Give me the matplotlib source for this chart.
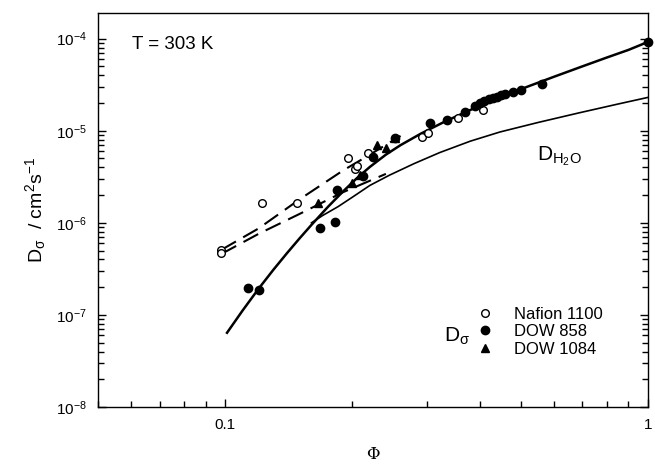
import matplotlib
matplotlib.use("Agg")
import matplotlib.pyplot as plt
from matplotlib.ticker import LogLocator, FixedLocator, FixedFormatter, NullFormatter

plt.rcParams['font.family'] = ['Liberation Sans', 'DejaVu Sans']
plt.rcParams['mathtext.fontset'] = 'custom'
plt.rcParams['mathtext.rm'] = 'Liberation Sans'
plt.rcParams['mathtext.it'] = 'Liberation Sans:italic'
plt.rcParams['mathtext.default'] = 'regular'

# measured points (volume fraction, diffusion coefficient in cm2/s)
nafion_phi = [0.098, 0.098, 0.122, 0.148, 0.195, 0.203, 0.205, 0.218, 0.292, 0.302, 0.355, 0.407]
nafion_d = [5.1e-7, 4.7e-7, 1.65e-6, 1.65e-6, 5.1e-6, 3.8e-6, 4.1e-6, 5.8e-6, 8.6e-6, 9.5e-6, 1.38e-5, 1.69e-5]

dow858_phi = [0.113, 0.120, 0.168, 0.182, 0.184, 0.212, 0.224, 0.252, 0.306, 0.335, 0.37,
              0.39, 0.40, 0.41, 0.42, 0.43, 0.44, 0.45, 0.46, 0.48, 0.50, 0.562, 1.0]
dow858_d = [1.97e-7, 1.87e-7, 8.8e-7, 1.03e-6, 2.3e-6, 3.2e-6, 5.2e-6, 8.4e-6, 1.22e-5, 1.32e-5, 1.6e-5,
            1.85e-5, 2.0e-5, 2.1e-5, 2.2e-5, 2.25e-5, 2.35e-5, 2.45e-5, 2.5e-5, 2.65e-5, 2.8e-5, 3.2e-5, 9.3e-5]

dow1084_phi = [0.166, 0.200, 0.209, 0.229, 0.240, 0.252]
dow1084_d = [1.65e-6, 2.7e-6, 3.3e-6, 7.0e-6, 6.5e-6, 8.4e-6]

# model curves
dsig_phi = [0.101, 0.11, 0.12, 0.13, 0.14, 0.15, 0.16, 0.175, 0.19, 0.205, 0.22, 0.24, 0.26,
            0.29, 0.33, 0.38, 0.447, 0.52, 0.6, 0.7, 0.8, 0.9, 1.0]
dsig_d = [6.4e-8, 1.12e-7, 1.93e-7, 3.09e-7, 4.68e-7, 6.79e-7, 9.5e-7, 1.49e-6, 2.19e-6, 3.06e-6, 4.05e-6,
          5.5e-6, 6.98e-6, 9.27e-6, 1.25e-5, 1.68e-5, 2.3e-5, 3.02e-5, 3.86e-5, 5.0e-5, 6.24e-5, 7.55e-5, 9.2e-5]

dh2o_phi = [0.16, 0.17, 0.185, 0.20, 0.22, 0.245, 0.28, 0.322, 0.38, 0.447, 0.55, 0.69, 0.85, 1.0]
dh2o_d = [1.0e-6, 1.2e-6, 1.5e-6, 1.9e-6, 2.55e-6, 3.3e-6, 4.4e-6, 5.8e-6, 7.7e-6, 9.7e-6, 1.23e-5,
          1.57e-5, 1.95e-5, 2.3e-5]

dash_up_phi = [0.098, 0.12, 0.15, 0.19, 0.22, 0.26]
dash_up_d = [5.1e-7, 8.7e-7, 1.8e-6, 3.7e-6, 5.5e-6, 8.8e-6]

dash_lo_phi = [0.098, 0.12, 0.15, 0.19, 0.24]
dash_lo_d = [4.6e-7, 7.6e-7, 1.25e-6, 2.15e-6, 3.4e-6]

x_ticks = [0.1, 1]
x_labels = ["0.1", "1"]
y_ticks = [1e-8, 1e-7, 1e-6, 1e-5, 1e-4]
y_labels = ["10$^{-8}$", "10$^{-7}$", "10$^{-6}$", "10$^{-5}$", "10$^{-4}$"]


def main():
    fig = plt.figure(figsize=(6.55, 4.71), dpi=100)
    ax = fig.add_axes([0.1496, 0.1359, 0.8394, 0.8365])

    ax.plot(dsig_phi, dsig_d, color='black', lw=1.8)
    ax.plot(dh2o_phi, dh2o_d, color='black', lw=1.2)
    ax.plot(dash_up_phi, dash_up_d, color='black', lw=1.5, dashes=(8, 4))
    ax.plot(dash_lo_phi, dash_lo_d, color='black', lw=1.5, dashes=(8, 4))

    ax.plot(nafion_phi, nafion_d, 'o', mfc='white', mec='black', mew=1.0, ms=5.5, clip_on=False, label='Nafion 1100')
    ax.plot(dow858_phi, dow858_d, 'o', color='black', ms=6, clip_on=False, label='DOW 858')
    ax.plot(dow1084_phi, dow1084_d, '^', color='black', ms=6, label='DOW 1084')

    ax.set_xscale('log')
    ax.set_yscale('log')
    ax.set_xlim(0.05, 1)
    ax.set_ylim(1e-8, 1.9e-4)

    ax.xaxis.set_major_locator(FixedLocator(x_ticks))
    ax.xaxis.set_major_formatter(FixedFormatter(x_labels))
    ax.xaxis.set_minor_locator(LogLocator(base=10, subs=range(2, 10)))
    ax.xaxis.set_minor_formatter(NullFormatter())
    ax.yaxis.set_major_locator(FixedLocator(y_ticks))
    ax.yaxis.set_major_formatter(FixedFormatter(y_labels))
    ax.yaxis.set_minor_locator(LogLocator(base=10, subs=range(2, 10)))
    ax.yaxis.set_minor_formatter(NullFormatter())

    ax.tick_params(which='both', direction='in', top=False, right=True, labelsize=11, width=1.0)
    ax.tick_params(which='major', length=6, pad=8)
    ax.tick_params(which='minor', length=4)
    for sp in ax.spines.values():
        sp.set_linewidth(1.0)

    ax.set_xlabel('Φ', family='DejaVu Serif', fontsize=12, labelpad=10)
    ax.set_ylabel('D$_{σ}$  / cm$^{2}$s$^{-1}$', fontsize=14, labelpad=6)

    ax.text(0.062, 0.919, 'T = 303 K', transform=ax.transAxes, ha='left', va='center', fontsize=13.5)
    ax.text(0.798, 0.627, 'D$_{H_2O}$', transform=ax.transAxes, ha='left', va='baseline', fontsize=15)
    ax.text(0.630, 0.165, 'D$_{σ}$', transform=ax.transAxes, ha='left', va='baseline', fontsize=15)

    ax.legend(loc='upper left', bbox_to_anchor=(0.69, 0.255), frameon=False, fontsize=12,
              handlelength=0.9, handletextpad=1.3, labelspacing=0.15, borderpad=0, borderaxespad=0)

    fig.savefig('out.png', dpi=100)
    plt.close(fig)


if __name__ == "__main__":
    main()
